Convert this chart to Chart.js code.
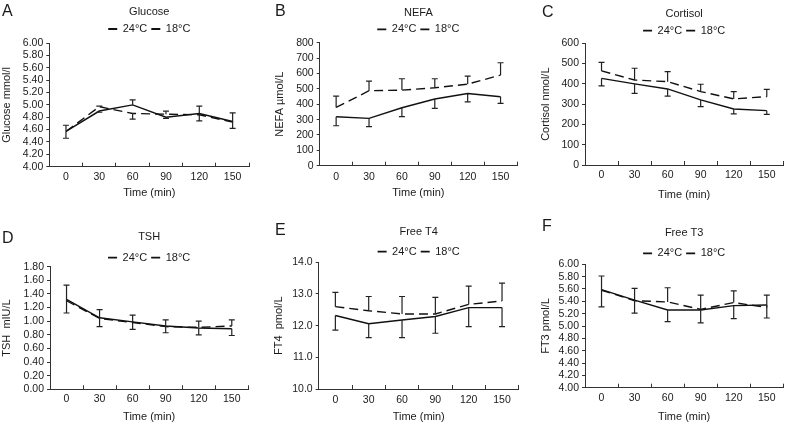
<!DOCTYPE html>
<html><head><meta charset="utf-8">
<script src="https://cdn.jsdelivr.net/npm/chart.js@4.4.1/dist/chart.umd.min.js"></script>
<style>
html,body{margin:0;padding:0;background:#fff;}
#wrap{position:relative;width:787px;height:424px;overflow:hidden;background:#fff;}
canvas{position:absolute;}
.letter{position:absolute;font:16px "Liberation Sans",Arial,sans-serif;color:#1a1a1a;line-height:16px;}
</style></head><body>
<div id="wrap"></div>
<script>
// ---- data ----
const timeLabels = ['0', '30', '60', '90', '120', '150'];
const seriesNames = ['24°C', '18°C'];

const glucose24 = [4.57, 4.90, 5.00, 4.80, 4.86, 4.73];
const glucose24Err = [-0.11, -0.02, 0.08, -0.02, 0.12, -0.11];
const glucose18 = [4.57, 4.97, 4.86, 4.85, 4.84, 4.72];
const glucose18Err = [0.10, 0.01, -0.09, 0.05, -0.10, 0.15];

const nefa24 = [319, 308, 377, 434, 470, 449];
const nefa24Err = [-59, -54, -58, -61, -54, -43];
const nefa18 = [379, 488, 492, 507, 531, 590];
const nefa18Err = [74, 63, 74, 59, 52, 80];

const cortisol24 = [427, 400, 375, 321, 276, 268];
const cortisol24Err = [-37, -47, -35, -33, -24, -18];
const cortisol18 = [464, 419, 411, 362, 326, 337];
const cortisol18Err = [42, 58, 49, 36, 36, 36];

const tsh24 = [1.32, 1.05, 0.99, 0.93, 0.90, 0.89];
const tsh24Err = [-0.20, -0.13, -0.11, -0.10, -0.10, -0.10];
const tsh18 = [1.30, 1.04, 0.98, 0.92, 0.91, 0.93];
const tsh18Err = [0.23, 0.13, 0.11, 0.10, 0.09, 0.09];

const ft4_24 = [12.32, 12.06, 12.18, 12.29, 12.57, 12.57];
const ft4_24Err = [-0.46, -0.44, -0.56, -0.53, -0.60, -0.60];
const ft4_18 = [12.60, 12.47, 12.37, 12.37, 12.67, 12.78];
const ft4_18Err = [0.45, 0.45, 0.55, 0.52, 0.58, 0.56];

const ft3_24 = [5.59, 5.42, 5.26, 5.26, 5.33, 5.34];
const ft3_24Err = [-0.28, -0.21, -0.19, -0.21, -0.21, -0.21];
const ft3_18 = [5.58, 5.41, 5.39, 5.27, 5.38, 5.30];
const ft3_18Err = [0.23, 0.20, 0.23, 0.23, 0.19, 0.20];

// ---- panel layout ----
const panels = [
  {letter:'A', lx:2, ly:3, left:0, top:0, w:262, h:210, title:'Glucose', yTitle:'Glucose mmol/l',
   min:4, max:6, step:0.2, dec:2, d24:glucose24, e24:glucose24Err, d18:glucose18, e18:glucose18Err,
   pad:{left:0, right:12.7, top:0, bottom:10.4}, yW:49.3, xH:32.9, tPad:{top:5.4, bottom:0.9}, legH:23.5, xTickPad:7.7},
  {letter:'B', lx:275, ly:3, left:262, top:0, w:262, h:210, title:'NEFA', yTitle:'NEFA µmol/L',
   min:0, max:800, step:100, dec:0, d24:nefa24, e24:nefa24Err, d18:nefa18, e18:nefa18Err,
   pad:{left:11.4, right:7, top:0, bottom:10.1}, yW:46.3, xH:34.2, tPad:{top:6.7, bottom:0}, legH:22.9, xTickPad:8.7},
  {letter:'C', lx:542, ly:4, left:524, top:0, w:263, h:210, title:'Cortisol', yTitle:'Cortisol nmol/L',
   min:0, max:600, step:100, dec:0, d24:cortisol24, e24:cortisol24Err, d18:cortisol18, e18:cortisol18Err,
   pad:{left:15.4, right:3.7, top:0, bottom:8.4}, yW:45.6, xH:36.6, tPad:{top:7.4, bottom:0.6}, legH:22.1, xTickPad:7.7},
  {letter:'D', lx:2, ly:230, left:0, top:210, w:262, h:214, title:'TSH', yTitle:'TSH  mIU/L',
   min:0, max:1.8, step:0.2, dec:2, d24:tsh24, e24:tsh24Err, d18:tsh18, e18:tsh18Err,
   pad:{left:0, right:13.7, top:0, bottom:0.7}, yW:50, xH:34, tPad:{top:20.1, bottom:4.9}, legH:18.5, xTickPad:7.7},
  {letter:'E', lx:275, ly:222, left:262, top:210, w:262, h:214, title:'Free T4', yTitle:'FT4  pmol/L',
   min:10, max:14, step:1, dec:1, d24:ft4_24, e24:ft4_24Err, d18:ft4_18, e18:ft4_18Err,
   pad:{left:10.4, right:5.3, top:0, bottom:0}, yW:46.3, xH:35, tPad:{top:15.1, bottom:3.9}, legH:20.1, xTickPad:8.7},
  {letter:'F', lx:542, ly:218, left:524, top:210, w:263, h:214, title:'Free T3', yTitle:'FT3 pmol/L',
   min:4, max:6, step:0.2, dec:2, d24:ft3_24, e24:ft3_24Err, d18:ft3_18, e18:ft3_18Err,
   pad:{left:15.4, right:3.7, top:0, bottom:0}, yW:45.6, xH:36.3, tPad:{top:16.1, bottom:4.5}, legH:20.5, xTickPad:8.3}
];

const FONT = '"Liberation Sans", Arial, sans-serif';
const INK = '#1a1a1a';
const AXIS = '#333';

const errorBarPlugin = {
  id: 'errorBars',
  afterDatasetsDraw(chart) {
    const ctx = chart.ctx;
    const yScale = chart.scales.y;
    chart.data.datasets.forEach((ds, di) => {
      if (!ds.errorBars) return;
      const meta = chart.getDatasetMeta(di);
      ctx.save();
      ctx.strokeStyle = '#222';
      ctx.lineWidth = 1.2;
      ctx.setLineDash([]);
      meta.data.forEach((pt, i) => {
        const e = ds.errorBars[i];
        if (!e) return;
        const y0 = yScale.getPixelForValue(ds.data[i]);
        const y1 = yScale.getPixelForValue(ds.data[i] + e);
        ctx.beginPath();
        ctx.moveTo(pt.x, y0); ctx.lineTo(pt.x, y1);
        ctx.moveTo(pt.x - 3, y1); ctx.lineTo(pt.x + 3, y1);
        ctx.stroke();
      });
      ctx.restore();
    });
  }
};

const wrap = document.getElementById('wrap');
panels.forEach(p => {
  const cv = document.createElement('canvas');
  cv.width = p.w; cv.height = p.h;
  cv.style.left = p.left + 'px'; cv.style.top = p.top + 'px';
  cv.style.width = p.w + 'px'; cv.style.height = p.h + 'px';
  wrap.appendChild(cv);
  const lt = document.createElement('div');
  lt.className = 'letter'; lt.textContent = p.letter;
  lt.style.left = p.lx + 'px'; lt.style.top = p.ly + 'px';
  wrap.appendChild(lt);

  new Chart(cv.getContext('2d'), {
    type: 'line',
    data: {
      labels: timeLabels,
      datasets: [
        {label: seriesNames[0], data: p.d24, errorBars: p.e24, borderColor: '#111', borderWidth: 1.4,
         pointRadius: 0, tension: 0, fill: false},
        {label: seriesNames[1], data: p.d18, errorBars: p.e18, borderColor: '#111', borderWidth: 1.4,
         borderDash: [9, 5], pointRadius: 0, tension: 0, fill: false}
      ]
    },
    options: {
      responsive: false,
      animation: false,
      devicePixelRatio: 1,
      layout: {padding: p.pad},
      plugins: {
        tooltip: {enabled: false},
        title: {display: true, text: p.title, fullSize: false, color: INK,
                font: {family: FONT, size: 11, weight: 'normal'}, padding: p.tPad},
        legend: {
          display: true, position: 'top', fullSize: false, maxHeight: p.legH,
          labels: {
            usePointStyle: true, pointStyle: 'line', pointStyleWidth: 9, padding: 4,
            color: INK, font: {family: FONT, size: 11},
            generateLabels(chart) {
              const items = Chart.defaults.plugins.legend.labels.generateLabels(chart);
              items.forEach(it => {
                const dashed = it.lineDash && it.lineDash.length;
                it.lineDash = dashed ? [2, 1.3] : [];
                it.lineWidth = dashed ? 1.1 : 1.8;
                it.strokeStyle = '#111';
                it.pointStyle = 'line';
              });
              return items;
            }
          }
        }
      },
      scales: {
        x: {
          type: 'category', offset: true,
          grid: {display: true, offset: true, drawOnChartArea: false, drawTicks: true, tickLength: -4, color: AXIS},
          border: {display: true, color: AXIS, width: 1},
          ticks: {padding: p.xTickPad, color: INK, font: {family: FONT, size: 10.5}, maxRotation: 0, autoSkip: false},
          title: {display: true, text: 'Time (min)', color: INK, font: {family: FONT, size: 11}, padding: 0},
          afterFit(s) { s.height = p.xH; }
        },
        y: {
          min: p.min, max: p.max,
          grid: {display: true, drawOnChartArea: false, drawTicks: true, tickLength: 3, color: AXIS},
          border: {display: true, color: AXIS, width: 1},
          ticks: {stepSize: p.step, padding: 3, autoSkip: false, color: INK, font: {family: FONT, size: 10.5},
                  callback: v => Number(v).toFixed(p.dec)},
          title: {display: true, text: p.yTitle, color: INK, font: {family: FONT, size: 11}, padding: 0},
          afterFit(s) { s.width = p.yW; }
        }
      }
    },
    plugins: [errorBarPlugin]
  });
});
</script>
</body></html>
